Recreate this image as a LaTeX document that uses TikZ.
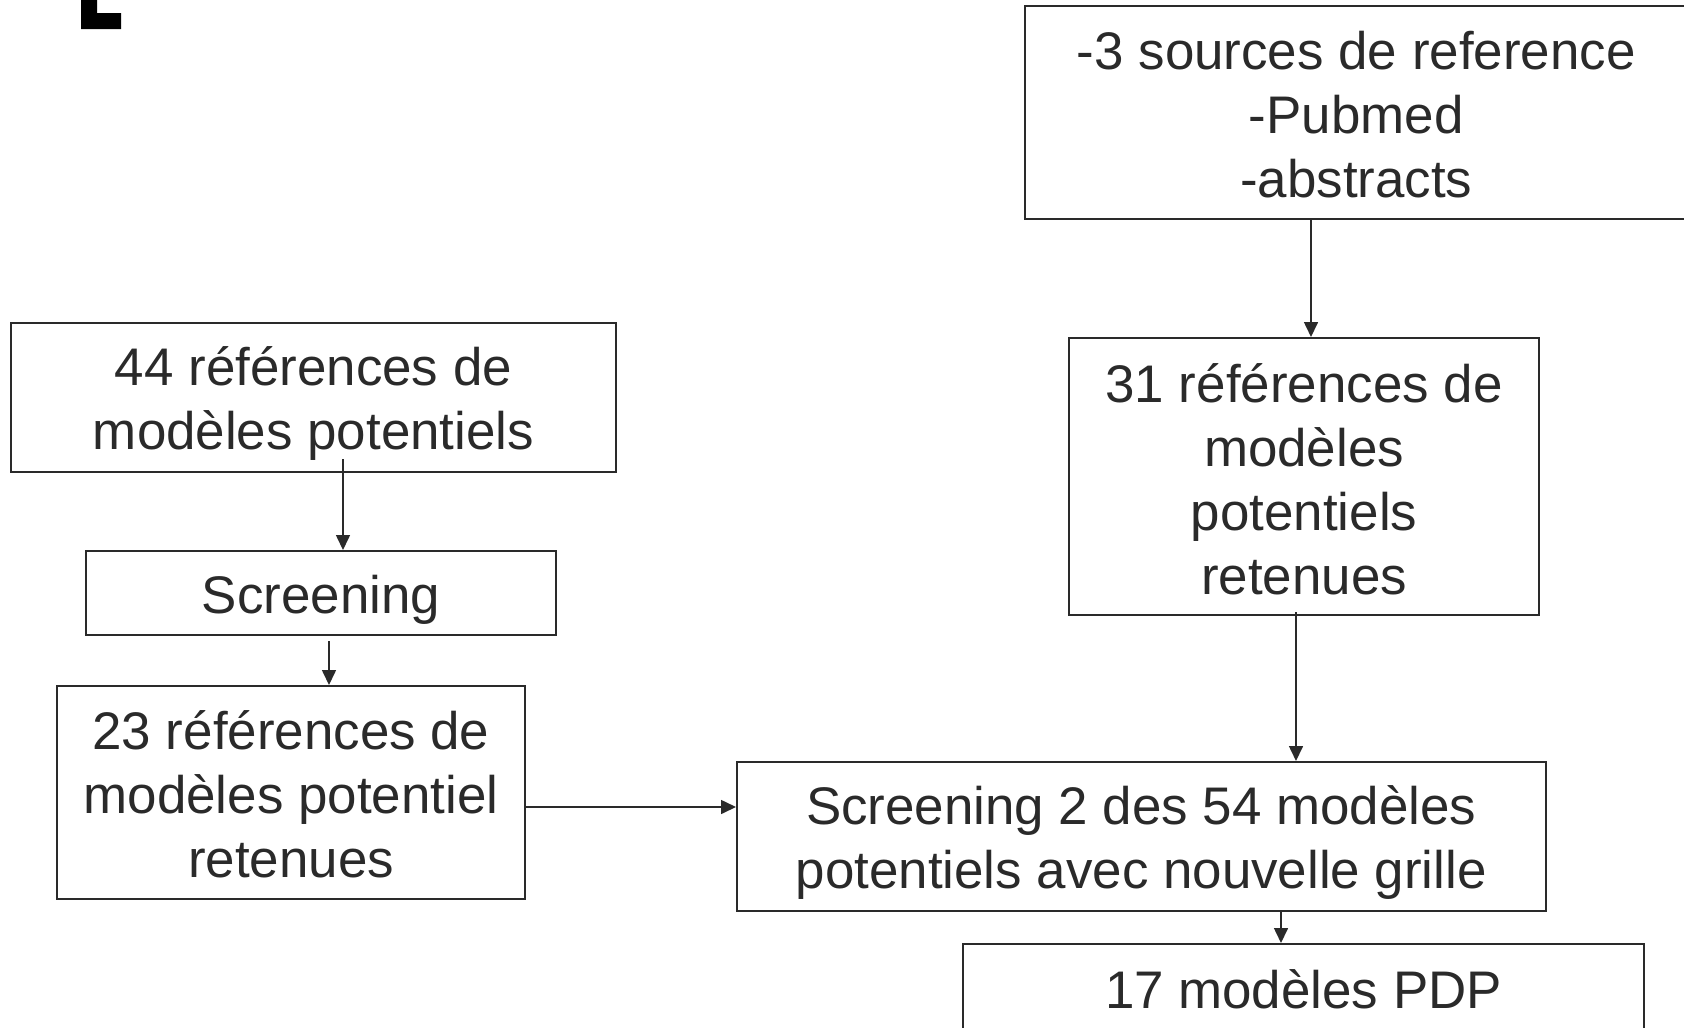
\documentclass[tikz,border=0pt]{standalone}
\usepackage{fontspec}
\setmainfont{Liberation Sans}
\usetikzlibrary{arrows.meta}
\definecolor{ink}{HTML}{2A2A2A}
\tikzset{
  box/.style={draw=ink, line width=2pt, rectangle, inner sep=0pt},
  txt/.style={inner sep=0pt, align=center, text=ink,
    font=\fontsize{52.9}{64}\selectfont},
  % box with its caption lowered by #1
  cap/.style 2 args={label={[txt, yshift=-#1]center:{#2}}},
  arr/.style={draw=ink, line width=1.6pt, -{Triangle[length=15pt,width=14pt]}}
}
\begin{document}
\begin{tikzpicture}[x=1pt,y=-1pt]
\useasboundingbox (0,0) rectangle (1684,1028);
% corner mark
\fill[black] (81,0) -- (97,0) -- (97,13) -- (121,13) -- (121,29) -- (81,29) -- cycle;
% boxes
\node[box, minimum width=605pt, minimum height=149pt,
  cap={6.5pt}{44 références de\\modèles potentiels}] (a) at (313.5,397.5) {};
\node[box, minimum width=470pt, minimum height=84pt,
  cap={6.5pt}{Screening}] (scr) at (321,593) {};
\node[box, minimum width=468pt, minimum height=213pt,
  cap={2pt}{23 références de\\modèles potentiel\\retenues}] (b23) at (291,792.5) {};
\node[box, minimum width=663.4pt, minimum height=212.6pt,
  cap={2pt}{-3 sources de reference\\-Pubmed\\-abstracts}] (src) at (1356.3,112.7) {};
\node[box, minimum width=470pt, minimum height=277pt,
  cap={3pt}{31 références de\\modèles\\potentiels\\retenues}] (b31) at (1304,476.5) {};
\node[box, minimum width=808.5pt, minimum height=149pt,
  cap={6.5pt}{Screening 2 des 54 modèles\\potentiels avec nouvelle grille}] (s2) at (1141.25,836.5) {};
\node[box, minimum width=681pt, minimum height=90pt,
  cap={0pt}{17 modèles PDP}] (b17) at (1303.5,989) {};
% connectors
\draw[arr] ([xshift=29.5pt,yshift=14pt]a.south) -- ([xshift=22pt]scr.north);
\draw[arr] ([xshift=8pt,yshift=-5pt]scr.south) -- ([xshift=38pt]b23.north);
\draw[arr] ([yshift=-14.5pt]b23.east) -- ([yshift=29.5pt]s2.west);
\draw[arr] ([xshift=-45.3pt]src.south) -- ([xshift=7pt]b31.north);
\draw[arr] ([xshift=-8pt,yshift=4pt]b31.south) -- ([xshift=154.75pt]s2.north);
\draw[arr] ([xshift=139.75pt]s2.south) -- ([xshift=-22.5pt]b17.north);
\end{tikzpicture}
\end{document}
